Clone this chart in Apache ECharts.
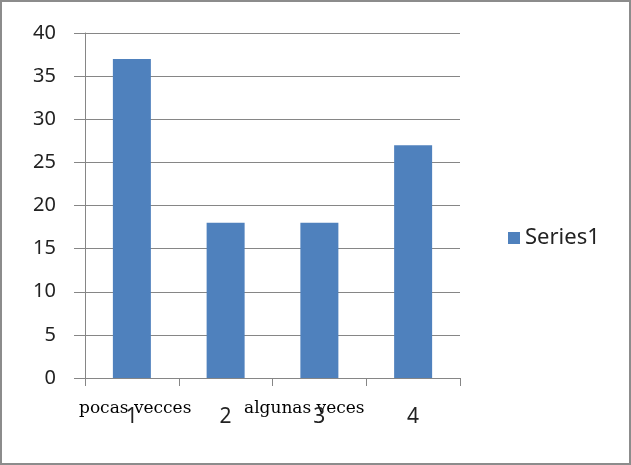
<!DOCTYPE html>
<html><head><meta charset="utf-8">
<script src="https://cdn.jsdelivr.net/npm/echarts@6/dist/echarts.min.js"></script>
<style>
html,body{margin:0;padding:0;background:#fff;}
#c{width:631px;height:465px;box-sizing:border-box;border:2px solid #8c8c8c;}
</style></head>
<body><div id="c"></div>
<script>
const categories = ['1', '2', '3', '4'];
const series1 = [37, 18, 18, 27];
const yTicks = { min: 0, max: 40, interval: 5 };
const overlayLabels = ['pocas vecces', 'algunas veces'];

const chart = echarts.init(document.getElementById('c'));
chart.setOption({
  animation: false,
  grid: { left: 83, right: 169, top: 31, bottom: 85 },
  legend: {
    data: ['Series1'], orient: 'vertical', left: 501, top: 220,
    itemWidth: 12, itemHeight: 12, itemGap: 8, icon: 'rect',
    textStyle: { fontFamily: 'Noto Sans', fontSize: 22, color: '#222' }
  },
  xAxis: {
    type: 'category', data: categories,
    axisLine: { lineStyle: { color: '#868686' } },
    axisTick: { show: true, length: 8, lineStyle: { color: '#868686' } },
    axisLabel: { margin: 29, fontFamily: 'Noto Sans', fontSize: 21, color: '#222' }
  },
  yAxis: {
    type: 'value', min: yTicks.min, max: yTicks.max, interval: yTicks.interval,
    axisLine: { show: true, lineStyle: { color: '#868686' } },
    axisTick: { show: true, length: 11, lineStyle: { color: '#868686' } },
    splitLine: { lineStyle: { color: '#868686' } },
    axisLabel: { margin: 29, fontFamily: 'Noto Sans', fontSize: 20, color: '#222' }
  },
  series: [{
    name: 'Series1', type: 'bar', data: series1, barWidth: 38,
    itemStyle: { color: '#4F81BD' }
  }],
  graphic: [
    { type: 'text', left: 77, top: 398, style: { text: overlayLabels[0], font: '17px "DejaVu Serif"', fill: '#000' } },
    { type: 'text', left: 242, top: 398, style: { text: overlayLabels[1], font: '17px "DejaVu Serif"', fill: '#000' } }
  ]
});
</script></body></html>
